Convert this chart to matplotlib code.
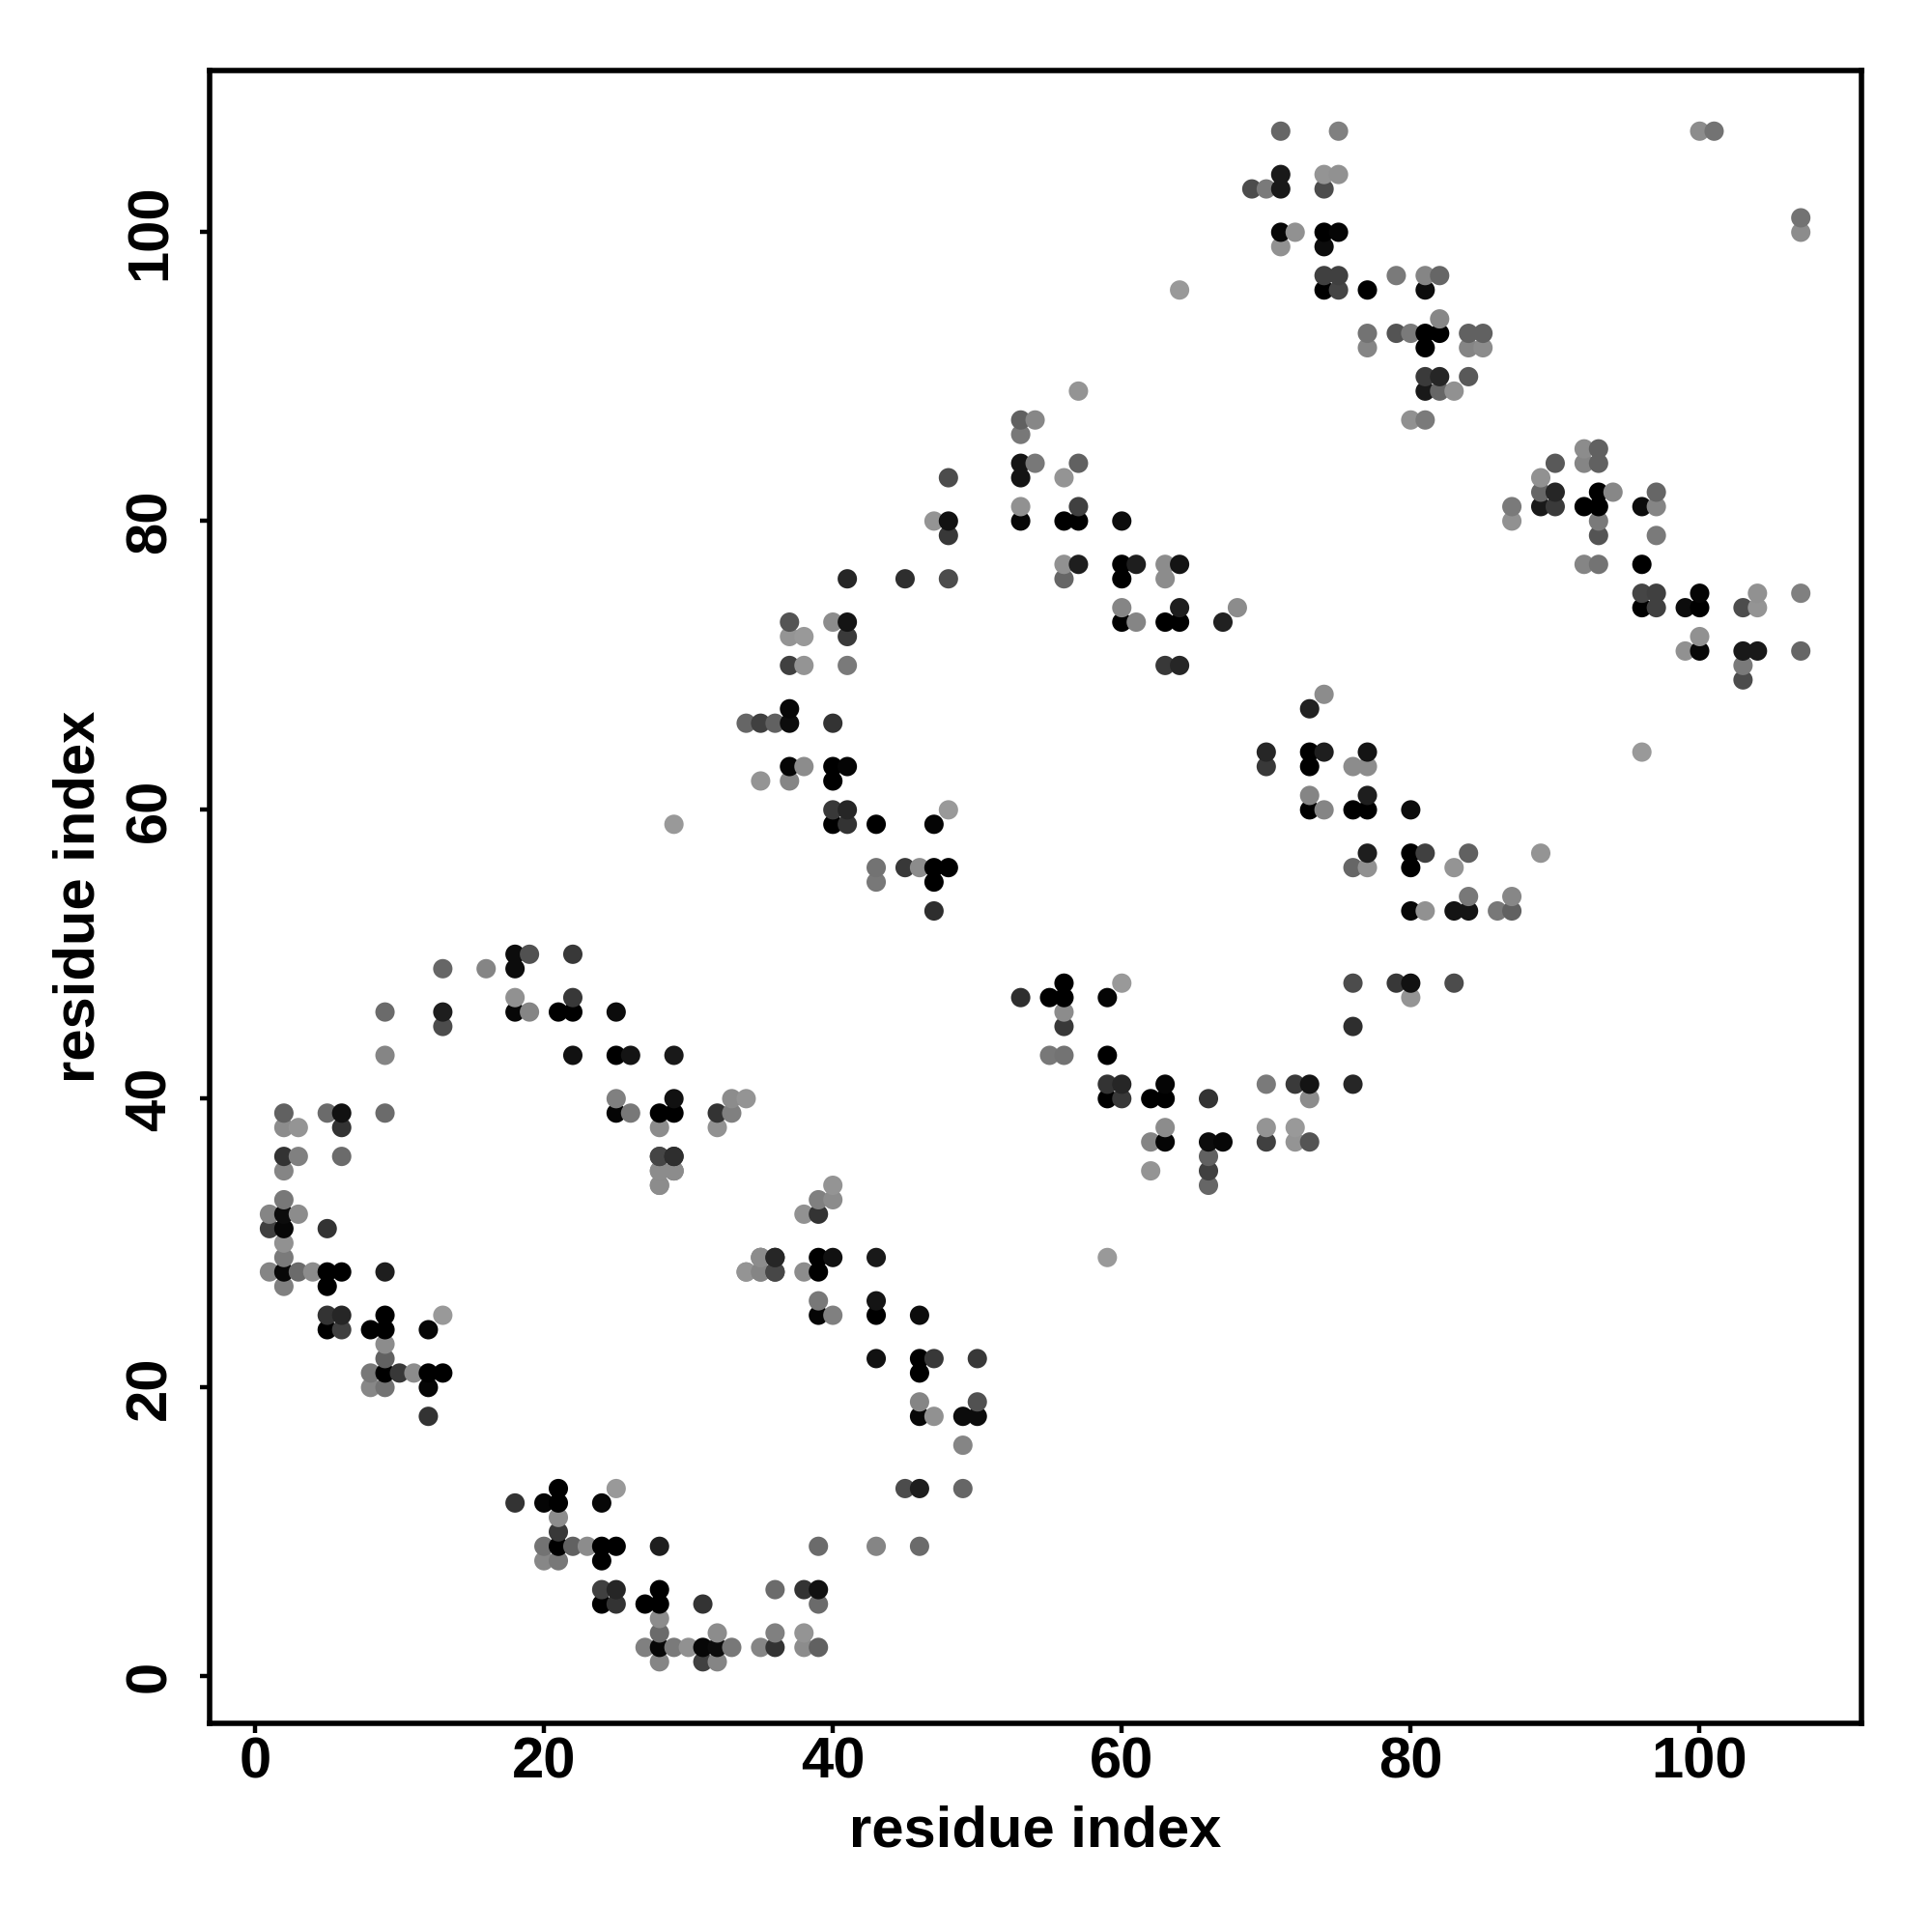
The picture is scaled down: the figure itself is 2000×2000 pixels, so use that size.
import numpy as np
import matplotlib
matplotlib.use("Agg")
import matplotlib.pyplot as plt

plt.rcParams['font.family'] = ['Liberation Sans', 'DejaVu Sans']

# contactos (i > j), el mapa es simetrico: se dibuja (i,j) y (j,i)
# gris 0 = negro, 0.6 = gris claro
i_res = [21,25,45,46,49, 18,20,21,24, 21, 21,
         20,21,22,23,24,25,28,39,43,46,
         20,21,24,
         24,25,28,36,38,39,
         24,25,27,28,31,39,
         28,
         28,32,36,38,
         27,28,29,30,31,32,33,35,36,38,39,
         28,31,32,
         28,29,28,29,28,29,
         40,39,40,38,39,
         35,36,39,40,43,
         34,35,36,38,39,
         39,43, 39,40,43,46,
         43,46,47,50, 46, 46,50, 46,47,49,50, 49,
         56,60,76,79,80,
         53,55,56,59,80,
         56, 56,76, 55,56,59,
         59,60,63,70,72,73,76,
         59,60,62,63,66,73,
         63,70,72,
         62,63,66,67,70,72,73,
         66, 62,66, 66, 59,
         74, 73,
         70,73,74,77,
         70,73,76,77,
         73,77,
         73,74,76,77,80,
         77,80,81,84,89,
         76,77,80,83,
         84,87,
         80,81,83,84,86,87,
         83,
         92,93, 90,92,93, 89,
         89,90,93,94,97,
         87,89,90,92,93,96,97,
         87,93, 93,97,
         92,93,96,
         96,97,100,104,107,
         96,97,99,100,103,104,
         100,
         99,100,103,104,107,
         103, 103, 96,
         107,107]
j_res = [13,13,13,13,13, 12,12,12,12, 11, 10,
         9,9,9,9,9,9,9,9,9,9,
         8,8,8,
         6,6,6,6,6,6,
         5,5,5,5,5,5,
         4,
         3,3,3,3,
         2,2,2,2,2,2,2,2,2,2,2,
         1,1,1,
         34,35,35,35,36,36,
         34,33,33,32,32,
         29,29,29,29,29,
         28,28,28,28,28,
         26,26, 25,25,25,25,
         22,22,22,22, 21, 19,19, 18,18,18,18, 16,
         48,48,48,48,48,
         47,47,47,47,47,
         46, 45,45, 43,43,43,
         41,41,41,41,41,41,41,
         40,40,40,40,40,40,
         38,38,38,
         37,37,37,37,37,37,37,
         36, 35,35, 34, 29,
         68, 67,
         64,64,64,64,
         63,63,63,63,
         61,61,
         60,60,60,60,60,
         57,57,57,57,57,
         56,56,56,56,
         54,54,
         53,53,53,53,53,53,
         48,
         85,85, 84,84,84, 83,
         82,82,82,82,82,
         81,81,81,81,81,81,81,
         80,80, 79,79,
         77,77,77,
         75,75,75,75,75,
         74,74,74,74,74,74,
         72,
         71,71,71,71,71,
         70, 69, 64,
         100,101]
gris = [0.0,0.6,0.3,0.12,0.4, 0.2,0.02,0.0,0.03, 0.55, 0.22,
        0.45,0.0,0.38,0.55,0.0,0.0,0.12,0.42,0.52,0.42,
        0.53,0.47,0.0,
        0.25,0.15,0.0,0.42,0.2,0.07,
        0.0,0.2,0.0,0.0,0.2,0.42,
        0.55,
        0.42,0.55,0.5,0.58,
        0.5,0.03,0.48,0.57,0.03,0.05,0.47,0.52,0.2,0.55,0.38,
        0.52,0.25,0.52,
        0.58,0.55,0.52,0.55,0.28,0.15,
        0.58,0.5,0.55,0.57,0.2,
        0.55,0.18,0.0,0.07,0.1,
        0.55,0.55,0.27,0.55,0.0,
        0.47,0.08, 0.02,0.5,0.0,0.05,
        0.07,0.0,0.22,0.22, 0.0, 0.52,0.32, 0.03,0.57,0.05,0.05, 0.52,
        0.0,0.6,0.3,0.22,0.07,
        0.18,0.0,0.0,0.02,0.58,
        0.55, 0.22,0.18, 0.47,0.45,0.0,
        0.2,0.15,0.02,0.48,0.23,0.08,0.15,
        0.0,0.22,0.0,0.0,0.2,0.55,
        0.55,0.58,0.6,
        0.52,0.02,0.05,0.03,0.25,0.58,0.33,
        0.38, 0.58,0.25, 0.4, 0.6,
        0.55, 0.13,
        0.15,0.0,0.12,0.08,
        0.22,0.0,0.55,0.55,
        0.52,0.12,
        0.0,0.52,0.0,0.0,0.05,
        0.12,0.0,0.25,0.38,0.58,
        0.4,0.57,0.0,0.58,
        0.47,0.53,
        0.03,0.57,0.08,0.08,0.47,0.38,
        0.3,
        0.55,0.38, 0.35,0.52,0.38, 0.57,
        0.4,0.15,0.0,0.53,0.4,
        0.48,0.1,0.23,0.0,0.0,0.05,0.52,
        0.57,0.48, 0.33,0.48,
        0.52,0.45,0.0,
        0.27,0.25,0.02,0.57,0.5,
        0.0,0.25,0.05,0.0,0.3,0.58,
        0.57,
        0.57,0.03,0.1,0.1,0.4,
        0.48, 0.3, 0.6,
        0.55,0.45]

ticks = [0, 20, 40, 60, 80, 100]

x = np.array(i_res + j_res)
y = np.array(j_res + i_res)
g = np.array(gris + gris)
orden = np.lexsort((y, x))

fig = plt.figure(figsize=(10, 10), dpi=200)
ax = fig.add_axes([217/2000, 1-1784/2000, (1927-217)/2000, (1784-73)/2000])
ax.scatter(x[orden], y[orden], s=52, c=g[orden], cmap='gray', vmin=0, vmax=1, linewidths=0, zorder=3)

ax.set_xlim(-3.14, 111.2)
ax.set_ylim(-3.26, 111.2)
ax.set_xticks(ticks)
ax.set_yticks(ticks)
ax.tick_params(length=3.6, width=1.6, labelsize=21.5)
ax.tick_params(axis='x', pad=1.4)
ax.tick_params(axis='y', pad=8.5)
for lab in ax.get_xticklabels():
    lab.set_fontweight('bold')
for lab in ax.get_yticklabels():
    lab.set_fontweight('bold')
    lab.set_rotation(90)
    lab.set_va('center')
for s in ax.spines.values():
    s.set_linewidth(2.0)

ax.set_xlabel('residue index', fontsize=21.5, fontweight='bold')
ax.set_ylabel('residue index', fontsize=21.5, fontweight='bold')
ax.xaxis.set_label_coords(0.5, -0.0491)
ax.yaxis.set_label_coords(-0.063, 0.5)

fig.savefig('out.png', dpi=200)
